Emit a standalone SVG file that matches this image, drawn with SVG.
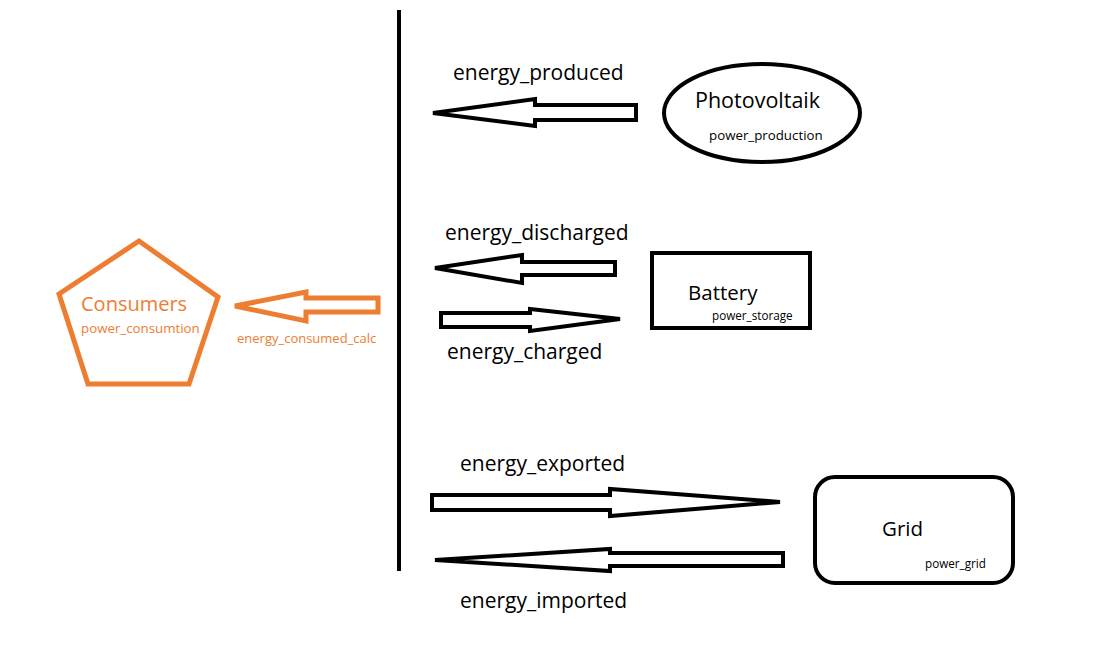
<svg xmlns="http://www.w3.org/2000/svg" width="1101" height="645" viewBox="0 0 1101 645">
<style>
.bk{fill:#fff;stroke:#000;stroke-width:4;stroke-linejoin:miter}
.or{fill:#fff;stroke:#ED7D31;stroke-width:5;stroke-linejoin:miter}
.lbl{font-family:"Open Sans","Noto Sans",sans-serif;fill:#000}
.olbl{font-family:"Open Sans","Noto Sans",sans-serif;fill:#ED7D31}
</style>
<rect width="1101" height="645" fill="#fff"/>
<line x1="399" y1="10" x2="399" y2="571" stroke="#000" stroke-width="4"/>
<g id="connectors">
<polygon class="bk" points="433,113 535,99 535,105 636,105 636,120 535,120 535,126"/>
<polygon class="bk" points="435,268 522,255 522,262 615,262 615,275 522,275 522,283"/>
<polygon class="bk" points="620,319 530,309 530,313 441,313 441,327 530,327 530,331"/>
<polygon class="bk" points="780,502 610,489 610,495 432,495 432,510 610,510 610,516"/>
<polygon class="bk" points="435,560 610,549 610,553 783,553 783,566 610,566 610,571"/>
<polygon class="or" points="235,306 306,292 306,298 378,298 378,312 306,312 306,321"/>
<text class="lbl" x="453" y="80" font-size="21">energy_produced</text>
<text class="lbl" x="445" y="240" font-size="21">energy_discharged</text>
<text class="lbl" x="447" y="359" font-size="21">energy_charged</text>
<text class="lbl" x="460" y="471" font-size="21">energy_exported</text>
<text class="lbl" x="460" y="608" font-size="21">energy_imported</text>
<text class="olbl" x="237" y="343" font-size="13">energy_consumed_calc</text>
</g>
<g id="photovoltaik">
<ellipse class="bk" cx="762" cy="113" rx="98" ry="49"/>
<text class="lbl" x="695" y="108" font-size="21.5">Photovoltaik</text>
<text class="lbl" x="709" y="140" font-size="13.3">power_production</text>
</g>
<g id="battery">
<rect class="bk" x="652" y="253" width="158" height="75"/>
<text class="lbl" x="688" y="300" font-size="20.5">Battery</text>
<text class="lbl" x="712" y="320" font-size="11.7">power_storage</text>
</g>
<g id="grid">
<rect class="bk" x="815" y="477" width="198" height="106" rx="20"/>
<text class="lbl" x="882" y="536" font-size="20.5">Grid</text>
<text class="lbl" x="925" y="568" font-size="11.7">power_grid</text>
</g>
<g id="consumers">
<polygon class="or" points="139,241 218,297 189,384 88,384 59,294"/>
<text class="olbl" x="81" y="311" font-size="20">Consumers</text>
<text class="olbl" x="81" y="333" font-size="13.3">power_consumtion</text>
</g>
</svg>
